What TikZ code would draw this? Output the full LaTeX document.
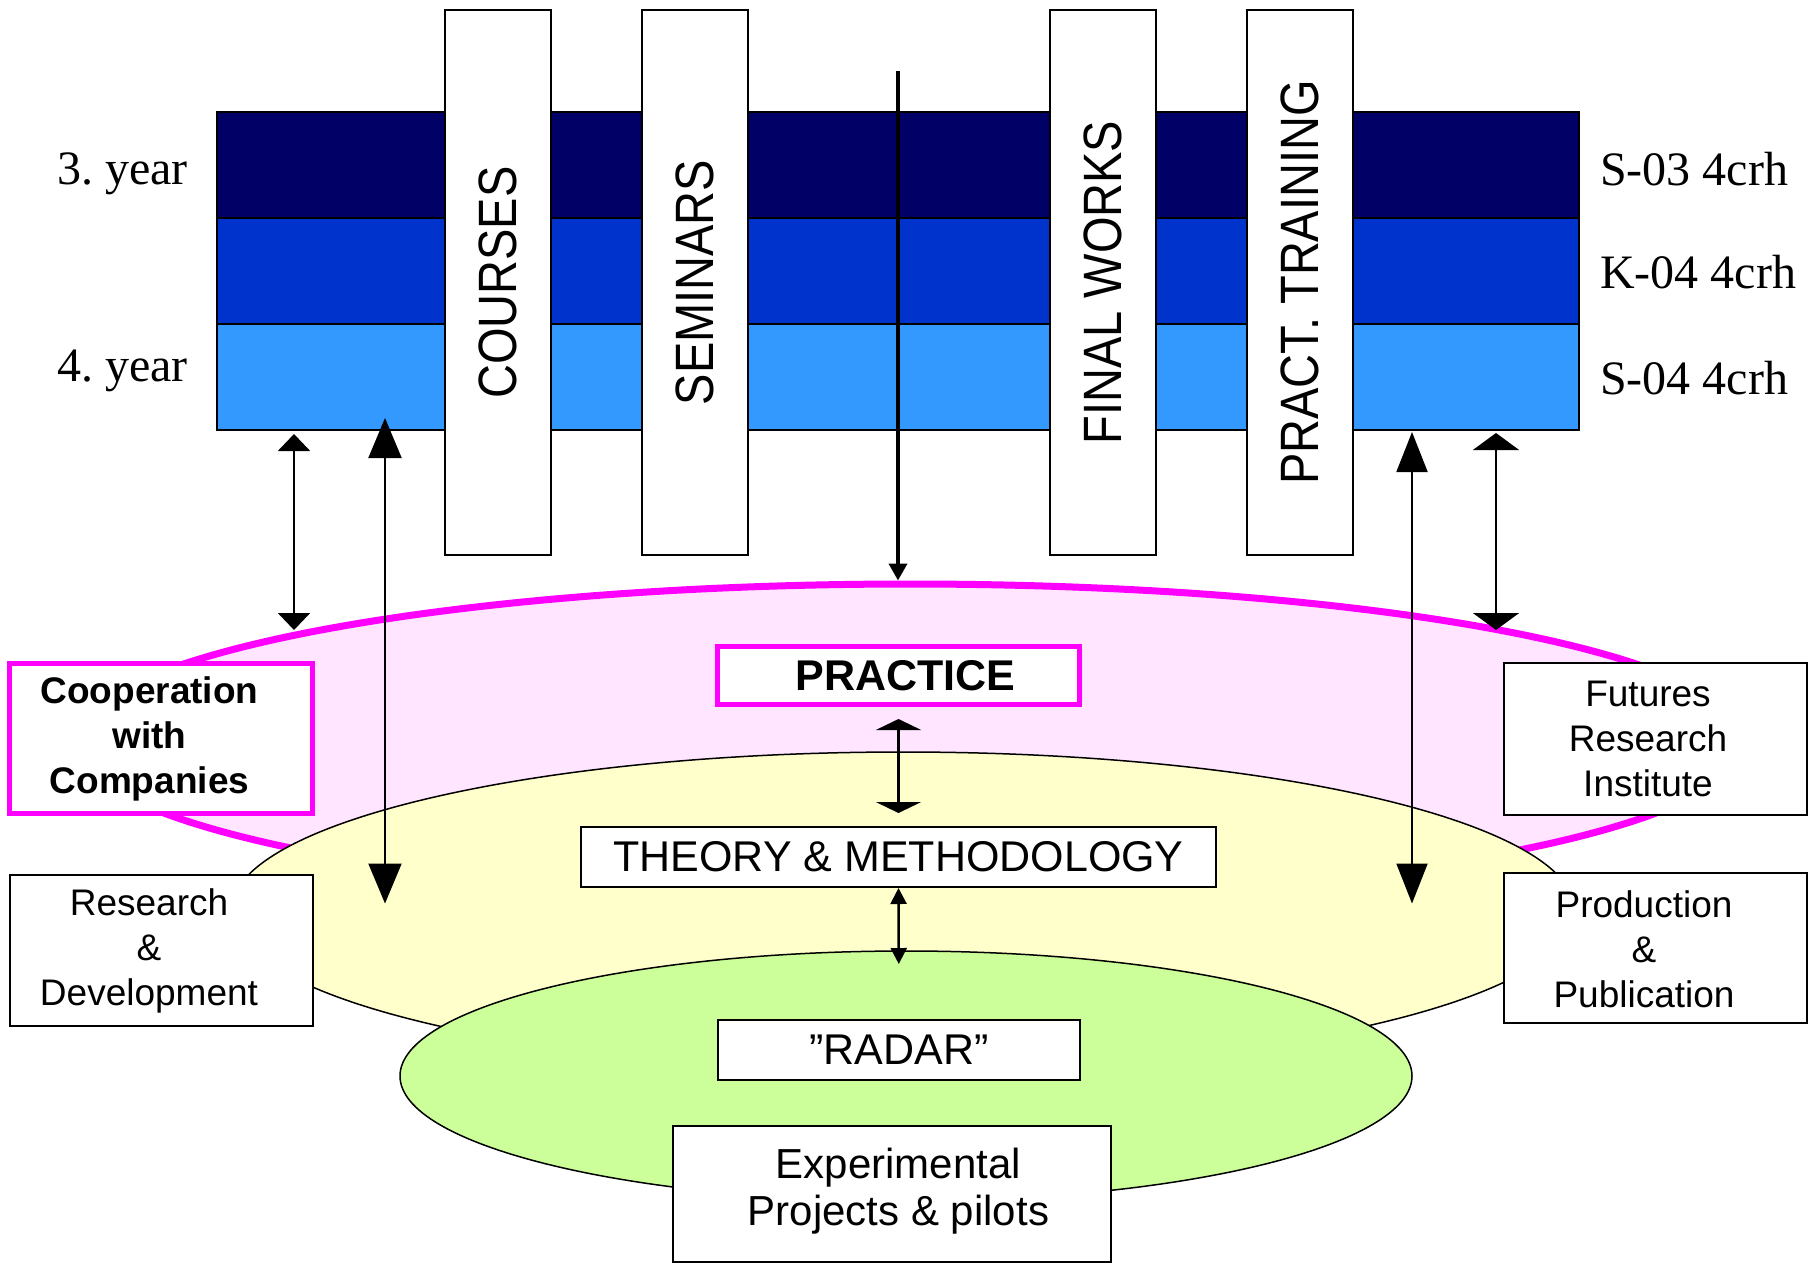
\documentclass[tikz,border=0pt]{standalone}
\usepackage{fontspec}
\setmainfont{Liberation Sans}
\newfontfamily\yearfont{Liberation Serif}
\newfontfamily\stripfont{Liberation Sans}[FakeStretch=0.87]
\usetikzlibrary{shapes.geometric,arrows.meta}
\frenchspacing

\definecolor{bandA}{RGB}{0,0,102}
\definecolor{bandB}{RGB}{0,51,204}
\definecolor{bandC}{RGB}{51,153,255}
\definecolor{ringline}{RGB}{255,0,255}
\definecolor{ringfill}{RGB}{255,229,255}
\definecolor{theoryfill}{RGB}{255,255,204}
\definecolor{radarfill}{RGB}{204,255,153}

\tikzset{
  band/.style={draw=black,line width=2pt,minimum width=1362pt,minimum height=106pt,inner sep=0pt,outer sep=0pt},
  strip/.style={draw=black,fill=white,line width=2pt,rotate=90,minimum width=545pt,minimum height=106pt,inner sep=0pt,
    font=\stripfont\fontsize{54}{60}\selectfont},
  yearlbl/.style={inner sep=0pt,anchor=base west,font=\yearfont\fontsize{48}{56}\selectfont},
  ring/.style={ellipse,inner sep=0pt},
  sidebox/.style={draw=black,fill=white,line width=2pt,minimum width=303pt,inner sep=0pt},
  hotbox/.style={draw=ringline,fill=white,line width=5pt,inner sep=0pt},
  sidetext/.style={align=center,inner sep=0pt,font=\fontsize{37}{45}\selectfont},
  centerbox/.style={draw=black,fill=white,line width=2pt,inner sep=0pt,font=\fontsize{43}{47}\selectfont},
  thin/.style={line width=2pt},
}

\begin{document}
\begin{tikzpicture}[x=1pt,y=-1pt]
\useasboundingbox (0,0) rectangle (1809,1264);

% the three study bands
\node[band,fill=bandA] (y3) at (898,165) {};
\node[band,fill=bandB] (k4) at (898,271) {};
\node[band,fill=bandC] (y4) at (898,377) {};

\node[yearlbl] (l3) at (57,184) {3. year};
\node[yearlbl] (l4) at (57,381) {4. year};
\node[yearlbl] (r1) at (1600,185) {S-03 4crh};
\node[yearlbl] (r2) at (1600,288) {K-04 4crh};
\node[yearlbl] (r3) at (1600,394) {S-04 4crh};

% vertical strips crossing the bands
\node[strip] (courses) at (498,282.5) {COURSES};
\node[strip] (seminars) at (694.5,282.5) {SEMINARS};
\node[strip] (final) at (1103,282.5) {FINAL WORKS};
\node[strip] (training) at (1300,282.5) {PRACT. TRAINING};

% nested rings
\node[ring,draw=ringline,line width=7pt,fill=ringfill,minimum width=1670pt,minimum height=316pt] (practring) at (910,742) {};
\node[ring,draw=black,line width=1.5pt,fill=theoryfill,minimum width=1344pt,minimum height=318pt] (theoryring) at (903,911) {};
\node[ring,draw=black,line width=1.5pt,fill=radarfill,minimum width=1012pt,minimum height=250pt] (radarring) at (906,1076) {};

% boxes on the sides
\node[hotbox,minimum width=303pt,minimum height=150pt] (coop) at (161,738.5) {};
\node[sidetext,font=\bfseries\fontsize{37}{45}\selectfont] (cooptext) at (149.5,739) {Cooperation\\with\\Companies};
\node[sidebox,minimum height=151pt] (rd) at (161.5,950.5) {};
\node[sidetext] (rdtext) at (149,951) {Research\\\&\\Development};
\node[sidebox,minimum height=152pt] (fut) at (1655.5,739) {};
\node[sidetext] (futtext) at (1648,739) {Futures\\Research\\Institute};
\node[sidebox,minimum height=150pt] (prod) at (1655.5,948) {};
\node[sidetext] (prodtext) at (1644,949) {Production\\\&\\Publication};

% boxes in the middle
\node[hotbox,minimum width=362pt,minimum height=58pt,font=\bfseries\fontsize{43}{47}\selectfont] (practice) at (898.5,675.5) {\hspace*{14pt}PRACTICE};
\node[centerbox,minimum width=635pt,minimum height=60pt] (theory) at (898.5,857) {THEORY \& METHODOLOGY};
\node[centerbox,minimum width=362pt,minimum height=60pt] (radar) at (899,1050) {”RADAR”};
\node[draw=black,fill=white,line width=2pt,minimum width=438pt,minimum height=136pt,inner sep=0pt] (exp) at (892,1194) {};
\node[align=center,inner sep=0pt,font=\fontsize{42}{47}\selectfont] (exptext) at (898.5,1191.5) {Experimental\\Projects \& pilots};

% connectors
\coordinate (ctop) at (898,71);
\draw[line width=3.8pt,-{Triangle[width=18pt,length=17pt]}] (ctop) -- (ctop |- practring.north);

\draw[line width=3.3pt,{Triangle[width=45pt,length=11pt]}-{Triangle[width=45pt,length=11pt]},
  shorten <=12pt,shorten >=13pt] (practice.south) -- (theory.north);
\draw[line width=2.5pt,{Triangle[width=16pt,length=16pt]}-{Triangle[width=16pt,length=16pt]},
  shorten >=55pt] (theory.south) -- (radar.north);

\coordinate (ta) at (294,434);  \coordinate (tb) at (294,630);
\coordinate (ua) at (385,418);  \coordinate (ub) at (385,903.5);
\coordinate (va) at (1412,432); \coordinate (vb) at (1412,903.5);
\coordinate (wa) at (1496,433); \coordinate (wb) at (1496,630);

\draw[thin,{Triangle[width=32pt,length=17pt]}-{Triangle[width=32pt,length=17pt]}] (ta) -- (tb);
\draw[thin,{Triangle[width=33pt,length=40pt]}-{Triangle[width=33pt,length=40pt]}] (ua) -- (ub);
\draw[thin,{Triangle[width=31pt,length=40pt]}-{Triangle[width=31pt,length=40pt]}] (va) -- (vb);
\draw[thin,{Triangle[width=46pt,length=17pt]}-{Triangle[width=46pt,length=17pt]}] (wa) -- (wb);
\end{tikzpicture}
\end{document}
